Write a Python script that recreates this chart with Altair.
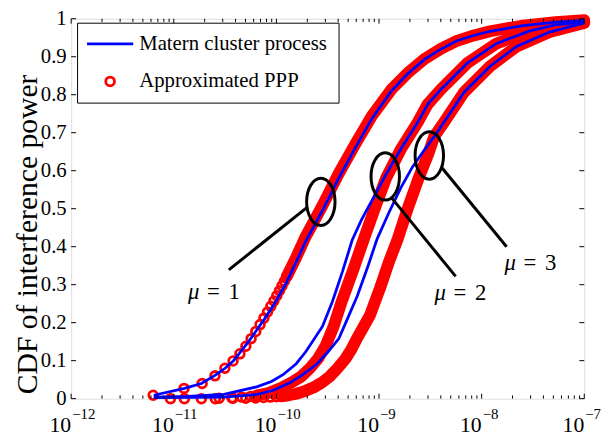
import altair as alt
import pandas as pd

MATERN = "Matern cluster process"
PPP = "Approximated PPP"
FONT = "Liberation Serif"

# ---- Matern cluster process (blue lines), mu = 1, 2, 3 ----
b1_x = [6.38e-12, 1.27e-11, 1.86e-11, 2.54e-11, 3.16e-11, 3.84e-11, 5.35e-11, 7.67e-11, 9.57e-11,
        1.25e-10, 1.56e-10, 1.94e-10, 2.81e-10, 4.04e-10, 5.87e-10, 8.51e-10, 1.32e-9, 1.90e-9,
        2.77e-9, 4.01e-9, 5.75e-9, 8.38e-9, 1.21e-8, 2.54e-8, 5.26e-8, 1.0e-7]
b1_y = [0.009, 0.027, 0.040, 0.062, 0.080, 0.100, 0.150, 0.210, 0.250, 0.305, 0.360, 0.415, 0.495,
        0.580, 0.660, 0.737, 0.810, 0.855, 0.893, 0.920, 0.942, 0.956, 0.967, 0.982, 0.991, 0.996]

b2_x = [6.38e-12, 1.36e-11, 3.08e-11, 6.43e-11, 8.95e-11, 1.16e-10, 1.56e-10, 1.94e-10, 2.81e-10,
        3.51e-10, 4.41e-10, 5.47e-10, 6.72e-10, 8.51e-10, 1.14e-9, 1.65e-9, 2.39e-9, 2.98e-9,
        4.01e-9, 7.23e-9, 1.40e-8, 2.94e-8, 5.26e-8, 1.0e-7]
b2_y = [0.004, 0.006, 0.011, 0.031, 0.045, 0.063, 0.092, 0.124, 0.190, 0.255, 0.335, 0.417, 0.470,
        0.521, 0.585, 0.659, 0.728, 0.775, 0.814, 0.883, 0.935, 0.968, 0.984, 0.992]

b3_x = [6.38e-12, 3.08e-11, 6.43e-11, 9.35e-11, 1.34e-10, 1.78e-10, 2.43e-10, 3.16e-10, 4.06e-10,
        4.92e-10, 6.14e-10, 7.83e-10, 9.57e-10, 1.25e-9, 1.63e-9, 2.12e-9, 2.77e-9, 3.45e-9,
        4.31e-9, 6.71e-9, 1.21e-8, 2.19e-8, 4.58e-8, 1.0e-7]
b3_y = [0.003, 0.004, 0.011, 0.022, 0.041, 0.062, 0.089, 0.122, 0.158, 0.210, 0.270, 0.350, 0.420,
        0.490, 0.555, 0.610, 0.655, 0.690, 0.728, 0.806, 0.875, 0.927, 0.965, 0.989]

# ---- Approximated PPP (red circles): sparse separate circles ----
r1c_x = [6.3e-12, 1.26e-11, 1.89e-11, 2.52e-11, 3.15e-11, 3.78e-11, 4.41e-11, 5.04e-11, 5.67e-11,
         6.3e-11, 6.93e-11, 7.56e-11, 8.19e-11, 8.82e-11, 9.45e-11, 1.008e-10, 1.071e-10, 1.134e-10,
         1.197e-10, 1.26e-10]
r1c_y = [0.009, 0.027, 0.040, 0.060, 0.080, 0.099, 0.118, 0.138, 0.158, 0.177, 0.195, 0.212, 0.228,
         0.243, 0.257, 0.271, 0.284, 0.297, 0.309, 0.321]
r2c_x = [9.29e-12, 1.86e-11, 2.77e-11, 3.69e-11, 4.60e-11, 5.62e-11, 6.43e-11]
r2c_y = [0.000, 0.000, 0.001, 0.002, 0.004, 0.006, 0.008]
r3c_x = [1.27e-11, 2.54e-11, 3.78e-11, 5.03e-11, 6.28e-11, 7.50e-11, 8.75e-11, 1.00e-10, 1.12e-10]
r3c_y = [0.000, 0.000, 0.001, 0.001, 0.002, 0.003, 0.004, 0.005, 0.006]

# ---- Approximated PPP: dense part (circles merge into a band) ----
r1b_x = [1.26e-10, 1.56e-10, 1.94e-10, 2.81e-10, 4.04e-10, 5.87e-10, 8.51e-10, 1.32e-9, 1.90e-9,
         2.77e-9, 4.01e-9, 5.75e-9, 8.38e-9, 1.21e-8, 2.54e-8, 5.26e-8, 1.0e-7]
r1b_y = [0.321, 0.372, 0.428, 0.508, 0.592, 0.670, 0.744, 0.814, 0.857, 0.894, 0.921, 0.942, 0.956,
         0.967, 0.982, 0.991, 0.996]
r2b_x = [6.43e-11, 8.38e-11, 1.09e-10, 1.39e-10, 1.74e-10, 2.12e-10, 2.54e-10, 3.03e-10, 3.61e-10,
         4.32e-10, 5.62e-10, 7.33e-10, 9.35e-10, 1.17e-9, 1.65e-9, 2.39e-9, 2.98e-9, 4.01e-9,
         7.23e-9, 1.40e-8, 2.94e-8, 5.26e-8, 1.0e-7]
r2b_y = [0.008, 0.015, 0.027, 0.042, 0.058, 0.080, 0.105, 0.140, 0.190, 0.255, 0.340, 0.430, 0.510,
         0.580, 0.659, 0.728, 0.775, 0.814, 0.883, 0.935, 0.968, 0.984, 0.992]
r3b_x = [1.12e-10, 1.25e-10, 1.56e-10, 1.90e-10, 2.32e-10, 2.77e-10, 3.30e-10, 3.94e-10, 4.71e-10,
         5.38e-10, 6.14e-10, 8.18e-10, 1.02e-9, 1.25e-9, 1.52e-9, 1.90e-9, 2.43e-9, 3.03e-9,
         3.45e-9, 4.31e-9, 6.71e-9, 1.21e-8, 2.19e-8, 4.58e-8, 1.0e-7]
r3b_y = [0.006, 0.008, 0.013, 0.020, 0.030, 0.042, 0.058, 0.080, 0.105, 0.130, 0.160, 0.220, 0.290,
         0.360, 0.420, 0.500, 0.580, 0.645, 0.690, 0.728, 0.806, 0.875, 0.927, 0.965, 0.989]

# ---- annotations ----
ell_x = [2.71e-10, 1.15e-9, 3.09e-9]
ell_y = [0.518, 0.585, 0.640]
ptr_x1 = [3.44e-11, 1.32e-9, 4.01e-9]
ptr_y1 = [0.339, 0.529, 0.611]
ptr_x2 = [2.02e-10, 5.58e-9, 1.75e-8]
ptr_y2 = [0.505, 0.322, 0.400]
lab_x = [2.43e-11, 6.14e-9, 2.96e-8]
lab_y = [0.280, 0.279, 0.357]
lab_mu = ["1", "2", "3"]

# ---- axis ticks ----
x_major = [1e-12, 1e-11, 1e-10, 1e-9, 1e-8, 1e-7]
x_exp = ["\u221212", "\u221211", "\u221210", "\u22129", "\u22128", "\u22127"]
x_minor = [m * 10.0 ** e for e in range(-12, -7) for m in range(2, 10)]
y_ticks = [0, 0.1, 0.2, 0.3, 0.4, 0.5, 0.6, 0.7, 0.8, 0.9, 1.0]

W, H = 520, 385


def frame(xs, ys, mu):
    d = pd.DataFrame({"x": xs, "y": ys})
    d["mu"] = mu
    return d


blue_df = pd.concat([frame(b1_x, b1_y, 1), frame(b2_x, b2_y, 2), frame(b3_x, b3_y, 3)])
band_df = pd.concat([frame(r1b_x, r1b_y, 1), frame(r2b_x, r2b_y, 2), frame(r3b_x, r3b_y, 3)])
circ_df = pd.concat([frame(r1c_x, r1c_y, 1), frame(r2c_x, r2c_y, 2), frame(r3c_x, r3c_y, 3)])
circ_df["model"] = PPP
ell_df = pd.DataFrame({"x": ell_x, "y": ell_y})
ptr_df = pd.DataFrame({"x": ptr_x1, "y": ptr_y1, "x2": ptr_x2, "y2": ptr_y2})
lab_df = pd.DataFrame({"x": lab_x, "y": lab_y, "mu": lab_mu})
xmaj_df = pd.DataFrame({"x": x_major, "e": x_exp})
xmin_df = pd.DataFrame({"x": x_minor})
yt_df = pd.DataFrame({"y": y_ticks})

xs = alt.Scale(type="log", domain=[1e-12, 1e-7])
ys = alt.Scale(domain=[0, 1])
yaxis = alt.Axis(values=y_ticks, format=".1~f", ticks=False, tickSize=0, domain=False, grid=False,
                 labelFont=FONT, labelFontSize=21, labelColor="black", labelPadding=5,
                 title="CDF of interference power", titleFont=FONT, titleFontSize=30,
                 titleFontWeight="normal", titleColor="black", titleX=-44, titleY=218,
                 titleAngle=270, titleAlign="center", titleBaseline="middle")
X = alt.X("x:Q", scale=xs, axis=None)
Y = alt.Y("y:Q", scale=ys, axis=yaxis)

legend = alt.Legend(title=None, orient="none", legendX=6, legendY=4, direction="vertical",
                    strokeColor="black", fillColor="white", padding=11, rowPadding=16,
                    symbolOffset=12, labelOffset=19, labelFont=FONT, labelFontSize=21,
                    labelColor="black", symbolStrokeWidth=2.8, symbolSize=78, labelLimit=400)

bands = alt.Chart(band_df).mark_line(color="#ff0000", strokeWidth=12, strokeCap="round",
                                     strokeJoin="round").encode(x=X, y=Y, detail="mu:N")
circles = alt.Chart(circ_df).mark_point(filled=False, size=78, strokeWidth=2.8, opacity=1).encode(
    x=X, y=Y,
    color=alt.Color("model:N", scale=alt.Scale(domain=[MATERN, PPP], range=["#0000ff", "#ff0000"]),
                    legend=legend),
    shape=alt.Shape("model:N", scale=alt.Scale(domain=[MATERN, PPP], range=["M-5.3,0L5.3,0", "circle"]),
                    legend=legend),
)
blue = alt.Chart(blue_df).mark_line(color="#0000ff", strokeWidth=2.8).encode(x=X, y=Y, detail="mu:N")

ELL = "M0,-1A0.6,1,0,1,1,0,1A0.6,1,0,1,1,0,-1Z"
ells = alt.Chart(ell_df).mark_point(shape=ELL, size=2304, filled=False, color="black",
                                    strokeWidth=3, opacity=1).encode(x=X, y=Y)
ptrs = alt.Chart(ptr_df).mark_rule(color="black", strokeWidth=3).encode(x=X, y=Y, x2="x2:Q", y2="y2:Q")

lab_mu_t = alt.Chart(lab_df).mark_text(font=FONT, fontSize=23, fontStyle="italic", color="black",
                                       dx=-20, baseline="middle").encode(x=X, y=Y, text=alt.value("\u03bc"))
lab_eq_t = alt.Chart(lab_df).mark_text(font=FONT, fontSize=23, color="black",
                                       baseline="middle").encode(x=X, y=Y, text=alt.value("="))
lab_n_t = alt.Chart(lab_df).mark_text(font=FONT, fontSize=23, color="black", dx=21,
                                      baseline="middle").encode(x=X, y=Y, text="mu:N")

tick_style = dict(color="black", strokeWidth=1)
xt_bot = alt.Chart(xmaj_df).mark_rule(**tick_style).encode(x=X, y=alt.value(H), y2=alt.value(H - 5))
xt_top = alt.Chart(xmaj_df).mark_rule(**tick_style).encode(x=X, y=alt.value(0), y2=alt.value(5))
xm_bot = alt.Chart(xmin_df).mark_rule(**tick_style).encode(x=X, y=alt.value(H), y2=alt.value(H - 3.3))
xm_top = alt.Chart(xmin_df).mark_rule(**tick_style).encode(x=X, y=alt.value(0), y2=alt.value(3.3))
yt_l = alt.Chart(yt_df).mark_rule(**tick_style).encode(y=Y, x=alt.value(0), x2=alt.value(5))
yt_r = alt.Chart(yt_df).mark_rule(**tick_style).encode(y=Y, x=alt.value(W), x2=alt.value(W - 5))

xl_base = alt.Chart(xmaj_df).mark_text(font=FONT, fontSize=22, color="black", align="right",
                                       baseline="middle").encode(x=X, y=alt.value(H + 27), text=alt.value("10"))
xl_exp = alt.Chart(xmaj_df).mark_text(font=FONT, fontSize=15, color="black", align="left", dx=1,
                                      baseline="middle").encode(x=X, y=alt.value(H + 16), text="e:N")

chart = alt.layer(
    bands, circles, blue, ells, ptrs, lab_mu_t, lab_eq_t, lab_n_t,
    xt_bot, xt_top, xm_bot, xm_top, yt_l, yt_r, xl_base, xl_exp,
).properties(
    width=W, height=H,
    autosize=alt.AutoSizeParams(type="none"),
    padding={"left": 64, "top": 8, "right": 20, "bottom": 38},
).configure_view(stroke="black", strokeWidth=1.2).configure(font=FONT)

chart.save("out.html", embed_options={"renderer": "svg", "actions": False})
